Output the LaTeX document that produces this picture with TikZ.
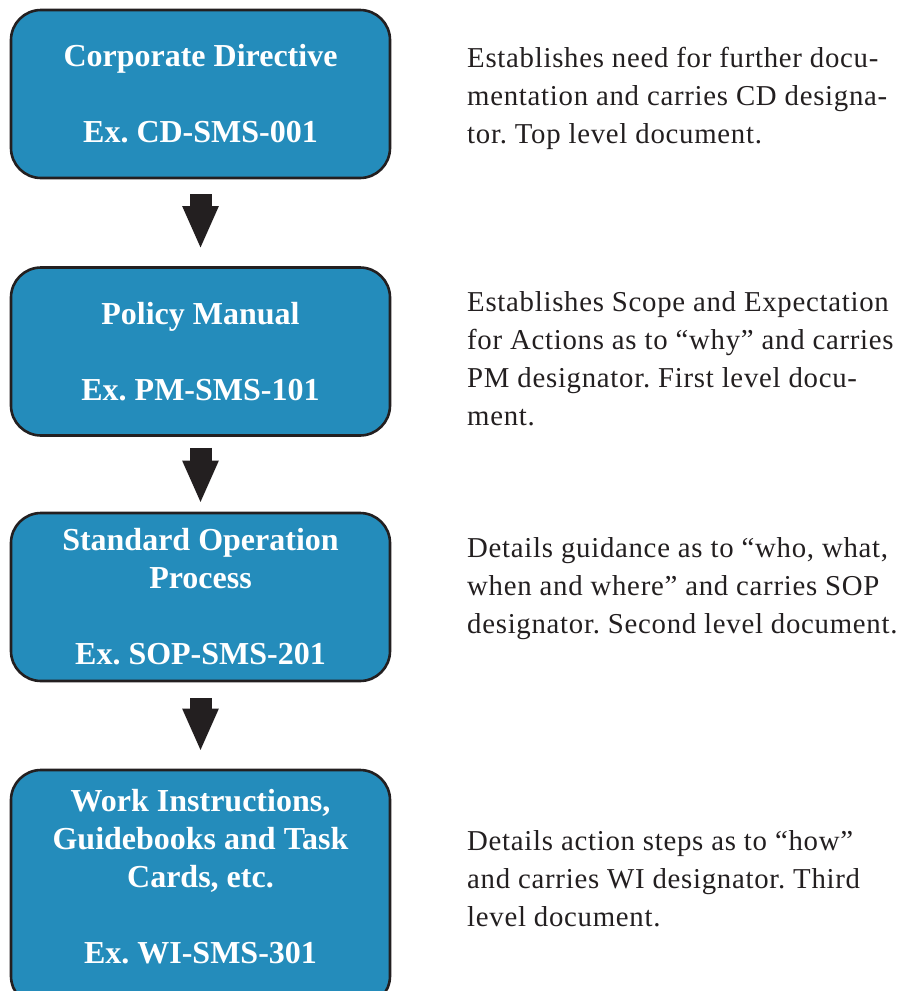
\documentclass[tikz,border=0pt]{standalone}
\usepackage{fontspec}
\setmainfont{Liberation Serif}
\newfontfamily\descfont[LetterSpace=2.5]{Liberation Serif}
\usetikzlibrary{arrows.meta}
\definecolor{boxblue}{RGB}{36,140,187}
\definecolor{inkdark}{RGB}{35,31,32}
\definecolor{txtdark}{RGB}{35,31,32}
\frenchspacing
\begin{document}
\begin{tikzpicture}[x=1pt,y=-1pt,
  docbox/.style={draw=inkdark, line width=2.6pt, fill=boxblue, rounded corners=30pt,
    minimum width=379pt, inner sep=0pt, align=center, text=white,
    font=\fontsize{32}{38}\selectfont\bfseries},
  boxtext/.style={inner sep=0pt, align=center, text=white,
    font=\fontsize{32}{38}\selectfont\bfseries},
  desc/.style={anchor=west, align=left, inner sep=0pt, text=txtdark,
    font=\descfont\fontsize{28.8}{38}\selectfont},
  bigarrow/.style={draw=inkdark, line width=22pt,
    -{Triangle[width=33pt,length=43pt]}}]
\useasboundingbox (0,0) rectangle (917,991);
\clip (0,0) rectangle (917,991);
\fill[white] (0,0) rectangle (917,991);

\node[docbox, minimum height=168pt] (b1) at (200.5,94) {Corporate Directive\\[38pt]Ex. CD-SMS-001};
\node[docbox, minimum height=168pt] (b2) at (200.5,351.5) {Policy Manual\\[38pt]Ex. PM-SMS-101};
\node[docbox, minimum height=168pt] (b3) at (200.5,597) {Standard Operation\\Process\\[38pt]Ex. SOP-SMS-201};
\node[docbox, minimum height=236pt] (b4) at (200.5,888) {};
\node[boxtext] (t4) at (200.5,877) {Work Instructions,\\Guidebooks and Task\\Cards, etc.\\[38pt]Ex. WI-SMS-301};

\draw[bigarrow, shorten <=15pt, shorten >=17pt] (b1.south) -- (b2.north);
\draw[bigarrow, shorten <=11pt, shorten >=8pt] (b2.south) -- (b3.north);
\draw[bigarrow, shorten <=16pt, shorten >=17pt] (b3.south) -- (b4.north);

\node[desc] (d1) at (467,98) {Establishes need for further docu-\\mentation and carries CD designa-\\tor. Top level document.};
\node[desc] (d2) at (467,359) {Establishes Scope and Expectation\\for Actions as to “why” and carries\\PM designator. First level docu-\\ment.};
\node[desc] (d3) at (467,589) {Details guidance as to “who, what,\\when and where” and carries SOP\\designator. Second level document.};
\node[desc] (d4) at (467,879) {Details action steps as to “how”\\and carries WI designator. Third\\level document.};
\end{tikzpicture}
\end{document}
